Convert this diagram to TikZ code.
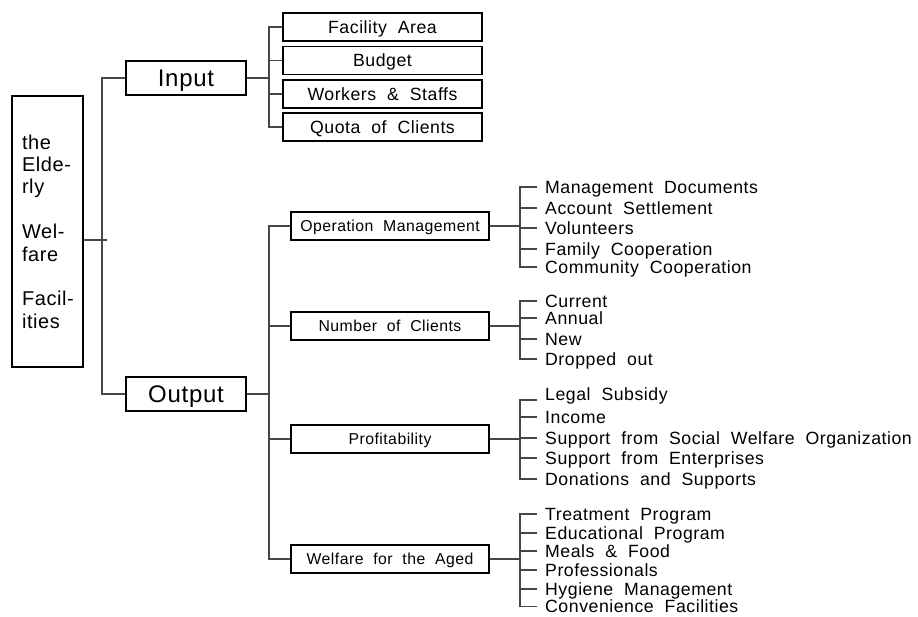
\documentclass[tikz,border=0pt]{standalone}
\usepackage{fontspec}
\setmainfont{Liberation Sans}[LetterSpace=3,WordSpace=2]
\usetikzlibrary{calc}
\begin{document}
\begin{tikzpicture}[x=1pt,y=-1pt,
  box/.style={draw=black,line width=1.6pt,inner sep=0pt,text height=12.7pt,text depth=0pt,
    minimum height=28pt,font=\fontsize{17.7}{20}\selectfont},
  inbox/.style={box,minimum width=199pt},
  outbox/.style={box,minimum width=198pt,font=\fontsize{15.8}{18}\selectfont,text height=11.3pt},
  bigbox/.style={box,minimum width=120pt,minimum height=34pt,font=\fontsize{24}{28}\selectfont,text height=17.2pt},
  item/.style={anchor=west,inner xsep=8pt,inner ysep=0pt,text height=12.7pt,text depth=0pt,
    font=\fontsize{17.7}{20}\selectfont},
  conn/.style={draw=black!72,line width=1.1pt}]
\useasboundingbox (0,0) rectangle (918,616);
% column coordinates
\coordinate (xa) at (102,0);
\coordinate (xb) at (269,0);
\coordinate (xc) at (520,0);
\coordinate (rj) at (107,240);
% root
\node[draw=black,line width=1.6pt,minimum width=71pt,minimum height=271pt,inner xsep=10pt,
  text width=51pt,align=left,font=\fontsize{20}{22.4}\selectfont] (root) at (47.5,231.5)
  {the\\\mbox{Elde-}\\rly\\[22.4pt]\mbox{Wel-}\\fare\\[22.4pt]\mbox{Facil-}\\ities};
% level 1
\node[bigbox] (input) at (186,78) {Input};
\node[bigbox] (output) at (186,394) {Output};
% input children
\node[inbox] (fa) at (382.5,27) {Facility Area};
\node[inbox] (bu) at (382.5,60.5) {Budget};
\node[inbox] (ws) at (382.5,94) {Workers \& Staffs};
\node[inbox] (qc) at (382.5,127) {Quota of Clients};
% output children
\node[outbox] (om) at (390,226) {Operation Management};
\node[outbox] (nc) at (390,326) {Number of Clients};
\node[outbox] (pr) at (390,439) {Profitability};
\node[outbox] (wa) at (390,559) {Welfare for the Aged};
% items
\node[item] (om1) at (537,187) {Management Documents};
\node[item] (om2) at (537,208) {Account Settlement};
\node[item] (om3) at (537,228) {Volunteers};
\node[item] (om4) at (537,249) {Family Cooperation};
\node[item] (om5) at (537,267) {Community Cooperation};
\node[item] (nc1) at (537,301) {Current};
\node[item] (nc2) at (537,318) {Annual};
\node[item] (nc3) at (537,339) {New};
\node[item] (nc4) at (537,359) {Dropped out};
\node[item] (pr1) at (537,394) {Legal Subsidy};
\node[item] (pr2) at (537,417) {Income};
\node[item] (pr3) at (537,438) {Support from Social Welfare Organization};
\node[item] (pr4) at (537,458) {Support from Enterprises};
\node[item] (pr5) at (537,479) {Donations and Supports};
\node[item] (wa1) at (537,514) {Treatment Program};
\node[item] (wa2) at (537,533) {Educational Program};
\node[item] (wa3) at (537,551) {Meals \& Food};
\node[item] (wa4) at (537,570) {Professionals};
\node[item] (wa5) at (537,589) {Hygiene Management};
\node[item] (wa6) at (537,606.5) {Convenience Facilities};
% root connectors
\draw[conn] (root.east |- rj) -- (rj);
\draw[conn] (input.west) -- (input.west -| xa) -- (output.west -| xa) -- (output.west);
% input branch
\draw[conn] (input.east) -- (input.east -| xb);
\draw[conn] (fa.west) -- (fa.west -| xb) -- (qc.west -| xb) -- (qc.west);
\draw[conn] (bu.west) -- (bu.west -| xb);
\draw[conn] (ws.west) -- (ws.west -| xb);
% output branch
\draw[conn] (output.east) -- (output.east -| xb);
\draw[conn] (om.west) -- (om.west -| xb) -- (wa.west -| xb) -- (wa.west);
\draw[conn] (nc.west) -- (nc.west -| xb);
\draw[conn] (pr.west) -- (pr.west -| xb);
% operation management items
\draw[conn] (om.east) -- (om.east -| xc);
\draw[conn] (om1.west) -- (om1.west -| xc) -- (om5.west -| xc) -- (om5.west);
\foreach \n in {om2,om3,om4} \draw[conn] (\n.west) -- (\n.west -| xc);
% clients items
\draw[conn] (nc.east) -- (nc.east -| xc);
\draw[conn] (nc1.west) -- (nc1.west -| xc) -- (nc4.west -| xc) -- (nc4.west);
\foreach \n in {nc2,nc3} \draw[conn] (\n.west) -- (\n.west -| xc);
% profitability items
\draw[conn] (pr.east) -- (pr.east -| xc);
\draw[conn] ($(pr1.west)+(0,6)$) -- ($(pr1.west -| xc)+(0,6)$) -- (pr5.west -| xc) -- (pr5.west);
\foreach \n in {pr2,pr3,pr4} \draw[conn] (\n.west) -- (\n.west -| xc);
% welfare items
\draw[conn] (wa.east) -- (wa.east -| xc);
\draw[conn] (wa1.west) -- (wa1.west -| xc) -- (wa6.west -| xc) -- (wa6.west);
\foreach \n in {wa2,wa3,wa4,wa5} \draw[conn] (\n.west) -- (\n.west -| xc);
\end{tikzpicture}
\end{document}
